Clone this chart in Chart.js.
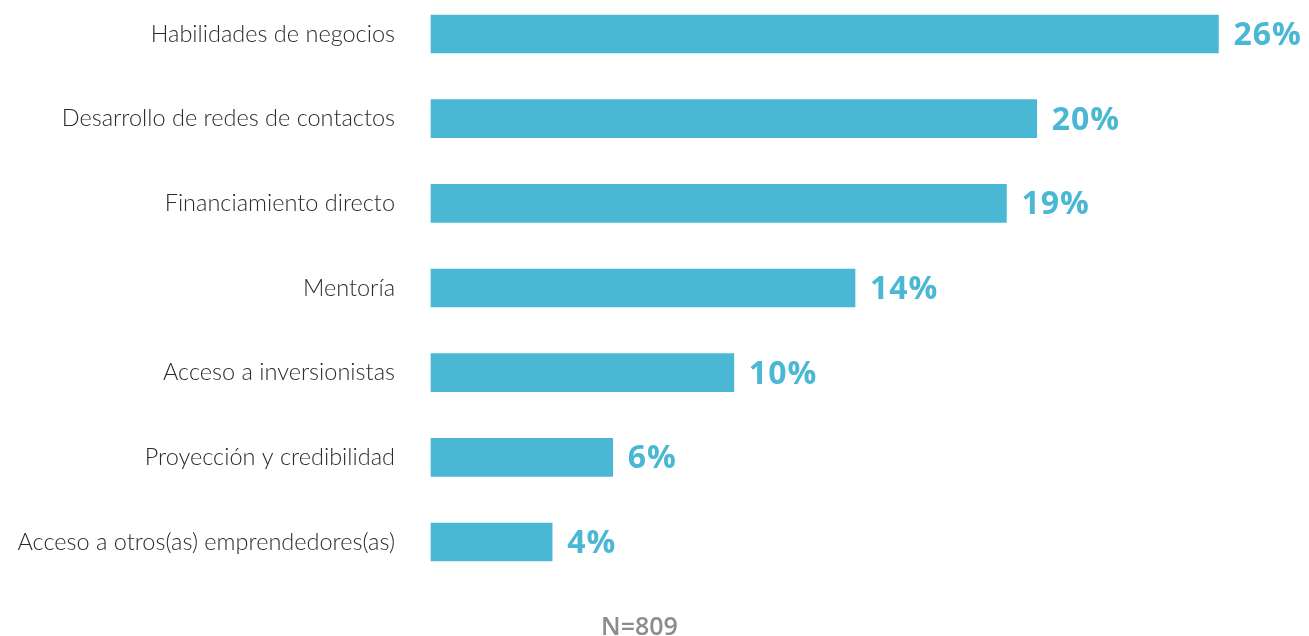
<!DOCTYPE html>
<html>
<head>
<meta charset="utf-8">
<script src="https://cdn.jsdelivr.net/npm/chart.js@4/dist/chart.umd.min.js"></script>
<style>
  html, body { margin: 0; padding: 0; background: #ffffff; }
  #wrap { width: 1309px; height: 636px; position: relative; }
</style>
</head>
<body>
<div id="wrap"><canvas id="apoyoChart"></canvas></div>
<script>
const categories = [
  "Habilidades de negocios",
  "Desarrollo de redes de contactos",
  "Financiamiento directo",
  "Mentoría",
  "Acceso a inversionistas",
  "Proyección y credibilidad",
  "Acceso a otros(as) emprendedores(as)",
];
const values = [26, 20, 19, 14, 10, 6, 4];
const sampleNote = "N=809";

const barColor = "#4ab8d4";

// etiquetas de porcentaje a la derecha de cada barra
const valueLabels = {
  id: "valueLabels",
  afterDatasetsDraw(chart) {
    const { ctx } = chart;
    const meta = chart.getDatasetMeta(0);
    ctx.save();
    ctx.font = "bold 32px 'Open Sans', sans-serif";
    ctx.letterSpacing = "1px";
    ctx.fillStyle = barColor;
    ctx.textAlign = "left";
    ctx.textBaseline = "middle";
    meta.data.forEach((bar, i) => {
      ctx.fillText(values[i] + "%", bar.x + 15, bar.y + 2);
    });
    ctx.restore();
  },
};

new Chart(document.querySelector("#apoyoChart"), {
  type: "bar",
  data: {
    labels: categories,
    datasets: [
      {
        data: values,
        backgroundColor: barColor,
        barThickness: 38,
        clip: false,
      },
    ],
  },
  options: {
    indexAxis: "y",
    responsive: true,
    maintainAspectRatio: false,
    animation: false,
    layout: {
      padding: { top: 34, right: 30, bottom: 0, left: 0 },
    },
    scales: {
      x: {
        display: false,
        min: 0,
        max: 28,
      },
      y: {
        offset: false,
        grid: { display: false },
        border: { display: false },
        ticks: {
          color: "#2a2a2a",
          padding: 28,
          font: { family: "Lato", size: 23.5, weight: 300 },
        },
        afterFit(scale) {
          scale.width = 431;
          scale.paddingTop = 0;
          scale.paddingBottom = 0;
        },
      },
    },
    plugins: {
      legend: { display: false },
      tooltip: { enabled: false },
      title: {
        display: true,
        text: sampleNote,
        position: "bottom",
        color: "#8c8c8c",
        font: { family: "'Open Sans', sans-serif", size: 25, weight: 600 },
        padding: { top: 71, bottom: -7 },
      },
    },
  },
  plugins: [valueLabels],
});
</script>
</body>
</html>
